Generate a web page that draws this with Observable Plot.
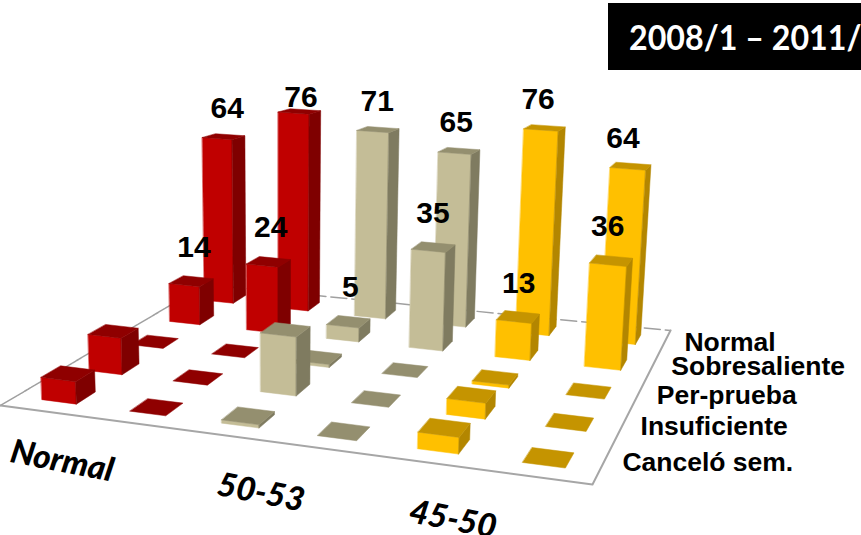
<!DOCTYPE html>
<html><head><meta charset="utf-8">
<script src="https://cdn.jsdelivr.net/npm/d3@7"></script>
<script src="https://cdn.jsdelivr.net/npm/@observablehq/plot@0.6"></script>
<style>
html,body{margin:0;padding:0;background:#fff;overflow:hidden}
#wrap{position:relative;width:861px;height:535px;overflow:hidden}
#title{position:absolute;left:608px;top:3px;width:253px;height:67px;background:#000;color:#fff;font:700 35px Lato,sans-serif;line-height:67px;box-sizing:border-box;white-space:nowrap;overflow:hidden}
#title span{display:inline-block;margin-left:21px;transform:scaleX(.92);transform-origin:0 50%}
</style></head><body>
<div id="wrap"><div id="title"><span>2008/1 – 2011/</span></div></div>
<script>
// Data: percent of students per admission score band (columns) and outcome (rows)
const columnLabels = ["Normal", "", "50-53", "", "45-50", ""];
const rowLabels = ["Canceló sem.", "Insuficiente", "Per-prueba", "Sobresaliente", "Normal"];
const canceloValues = [7, 0, 1, 0, 5, 0];
const insuficienteValues = [12, 0, 19, 0, 5, 0];
const perPruebaValues = [0, 0, 1, 0, 1, 0];
const sobresalienteValues = [14, 24, 5, 35, 13, 36];
const normalValues = [64, 76, 71, 65, 76, 64];
const rowValues = [canceloValues, insuficienteValues, perPruebaValues, sobresalienteValues, normalValues];
const labelledRows = [3, 4];
const columnColors = [
  {front:"#c00000", side:"#7f0000", top:"#8f0000"},
  {front:"#c00000", side:"#7f0000", top:"#8f0000"},
  {front:"#c4bd97", side:"#7f7b60", top:"#948f6f"},
  {front:"#c4bd97", side:"#7f7b60", top:"#948f6f"},
  {front:"#ffc000", side:"#b38600", top:"#c59400"},
  {front:"#ffc000", side:"#b38600", top:"#c59400"}
];

// Floor projection: unit square -> floor quadrilateral
const [p0,p1,p2,p3] = [[0,405],[592,484],[670,330],[205,284]];
const dx1=p1[0]-p2[0],dx2=p3[0]-p2[0],sx=p0[0]-p1[0]+p2[0]-p3[0];
const dy1=p1[1]-p2[1],dy2=p3[1]-p2[1],sy=p0[1]-p1[1]+p2[1]-p3[1];
const det=dx1*dy2-dx2*dy1;
const g=(sx*dy2-dx2*sy)/det,h=(dx1*sy-sx*dy1)/det;
const a=p1[0]-p0[0]+g*p1[0],b=p3[0]-p0[0]+h*p3[0];
const d=p1[1]-p0[1]+g*p1[1],e=p3[1]-p0[1]+h*p3[1];
function floorPoint(u,v){
  const w=g*u+h*v+1;
  return [(a*u+b*v+p0[0])/w,(d*u+e*v+p0[1])/w];
}
function project(u,v,val=0){
  const [fx,fy]=floorPoint(u,v);
  const ht=val*(2.5+0.2*u+0.8*(0.9-v));
  return [fx+(fx-280)*ht/6000, fy-ht];
}
const halfU=0.033, halfV=0.04;
const centerU=c=>(c+0.5)/6, centerV=r=>(r+0.5)/5;

const facePoints=[];
function addFace(id,color,corners){
  for(const [u,v,val] of corners){const [x,y]=project(u,v,val);facePoints.push({id,color,x,y});}
}
for(let r=4;r>=0;r--){
  for(let c=0;c<6;c++){
    const val=rowValues[r][c], u0=centerU(c)-halfU,u1=centerU(c)+halfU,v0=centerV(r)-halfV,v1=centerV(r)+halfV;
    const col=columnColors[c], key=`${r}-${c}`;
    if(val>0){
      addFace(key+"f",col.front,[[u0,v0,0],[u1,v0,0],[u1,v0,val],[u0,v0,val]]);
      addFace(key+"s",col.side,[[u1,v0,0],[u1,v1,0],[u1,v1,val],[u1,v0,val]]);
    }
    addFace(key+"t",col.top,[[u0,v0,val],[u1,v0,val],[u1,v1,val],[u0,v1,val]]);
  }
}
const valueLabels=[];
for(const r of labelledRows) rowValues[r].forEach((val,c)=>{
  const [, y]=project(centerU(c),centerV(r),val);
  const [x]=floorPoint(centerU(c),centerV(r));
  const lift=r===4?(c===1?-14:-28):-34;
  valueLabels.push({x:x+2,y:y+lift,text:String(val)});
});
const floorLine=(pts)=>pts.map(([u,v])=>{const [x,y]=project(u,v);return {x,y};});
const rowNudge=[-1,0,1,1,3];
const rowText=rowLabels.map((t,r)=>{
  const [x,y]=project(1.03,centerV(r));return {x:x+r,y:y-4+rowNudge[r],text:t};
});
const colNudge=[[18,50],[0,0],[33,57],[0,0],[24,57],[0,0]];
const colText=columnLabels.map((t,c)=>{
  const [x,y]=project(centerU(c),0);return {x:x+colNudge[c][0],y:y+colNudge[c][1],text:t};
}).filter(d=>d.text);

const chart=Plot.plot({
  width:861,height:535,margin:0,
  x:{domain:[0,861],range:[0,861],axis:null},
  y:{domain:[0,535],range:[0,535],axis:null},
  marks:[
    Plot.line(floorLine([[0,0],[0,1]]),{x:"x",y:"y",stroke:"#a0a0a0",strokeWidth:1.5,strokeDasharray:"3 1"}),
    Plot.line(floorLine([[0,1],[1,1]]),{x:"x",y:"y",stroke:"#a0a0a0",strokeWidth:1.5,strokeDasharray:"16 5"}),
    Plot.line(floorLine([[0,0],[1,0],[1,1]]),{x:"x",y:"y",stroke:"#a6a6a6",strokeWidth:2}),
    Plot.line(facePoints,{x:"x",y:"y",z:"id",fill:"color",stroke:"color",strokeWidth:0.5,curve:"linear-closed"}),
    Plot.text(valueLabels,{x:"x",y:"y",text:"text",fontFamily:"Liberation Sans",fontWeight:700,fontSize:30,fill:"#000"}),
    Plot.text(rowText,{x:"x",y:"y",text:"text",textAnchor:"start",fontFamily:"Liberation Sans",fontWeight:700,fontSize:26.5,fill:"#000"}),
    Plot.text(colText,{x:"x",y:"y",text:"text",rotate:11,fontFamily:"Lato",fontWeight:900,fontStyle:"italic",fontSize:33,fill:"#000"})
  ]
});
document.getElementById("wrap").prepend(chart);
</script>
</body></html>
